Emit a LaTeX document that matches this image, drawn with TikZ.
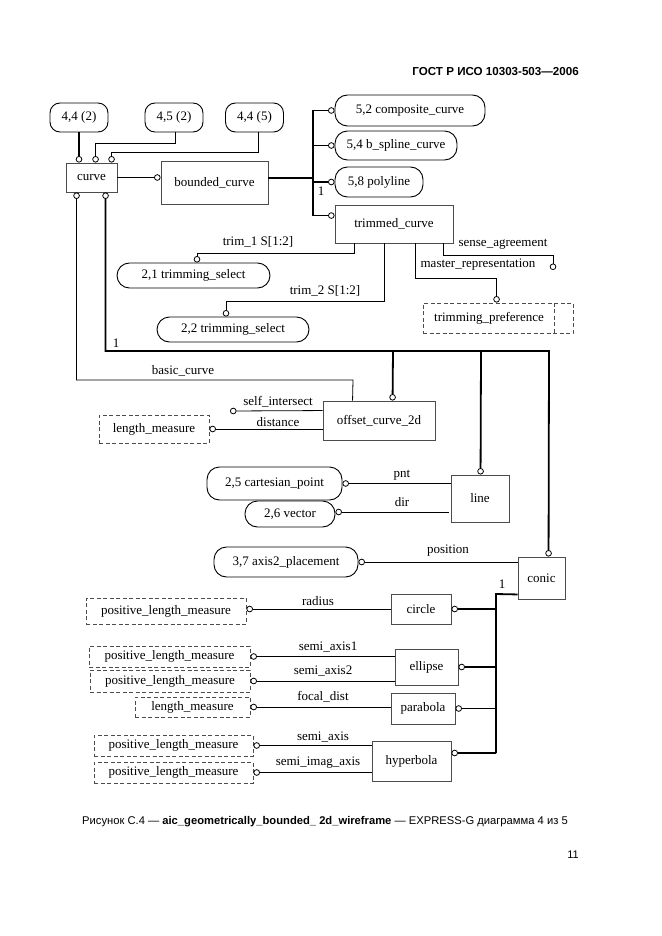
\documentclass[tikz,border=0pt]{standalone}
\usepackage{fontspec}
\setmainfont{Liberation Serif}
\setsansfont{Liberation Sans}
\usetikzlibrary{arrows.meta,calc}
\begin{document}
\begin{tikzpicture}[x=1pt,y=-1pt,
  every node/.style={font=\fontsize{13}{15}\selectfont, inner sep=0pt},
  ent/.style={draw=black!70, line width=0.9pt, minimum width=#1},
  ent/.default=50pt,
  typ/.style={draw=black!70, line width=0.9pt, dash pattern=on 4pt off 2.5pt, minimum width=#1},
  refb/.style={draw=black, line width=0.9pt, rounded corners=10pt, minimum width=58pt, minimum height=29pt},
  capb/.style={draw=black, line width=0.9pt, rounded corners=12.5pt, minimum width=#1},
  lab/.style={font=\fontsize{13}{15}\selectfont},
  thn/.style={line width=0.8pt},
  thk/.style={line width=1.8pt},
  endc/.style={-{Circle[open,length=6.5pt 0,width=6.5pt 0,line width=0.8pt 0]}},
  bothc/.style={{Circle[open,length=6.5pt 0,width=6.5pt 0,line width=0.8pt 0]}-{Circle[open,length=6.5pt 0,width=6.5pt 0,line width=0.8pt 0]}},
  startc/.style={{Circle[open,length=6.5pt 0,width=6.5pt 0,line width=0.8pt 0]}-}
]
\useasboundingbox (0,0) rectangle (661,936);

% header
\node[font=\sffamily\bfseries\fontsize{11.6}{13}\selectfont, anchor=east] (hdr) at (579,72) {ГОСТ Р ИСО 10303-503—2006};

% page references
\node[refb] (r1) at (79,117.5) {4,4 (2)};
\node[refb] (r2) at (174,117.5) {4,5 (2)};
\node[refb] (r3) at (254.5,117.5) {4,4 (5)};

% entities
\node[ent=51pt, minimum height=29pt] (curve) at (91.5,177.5) {curve};
\node[ent=107pt, minimum height=43pt] (bc) at (214.5,182.5) {bounded\_curve};
\node[capb=150pt, minimum height=31pt] (comp) at (410,110.5) {5,2 composite\_curve};
\node[capb=122pt, minimum height=29pt] (bsp) at (396,145.5) {5,4 b\_spline\_curve};
\node[capb=88pt, minimum height=30pt] (poly) at (379,182) {5,8 polyline};
\node[ent=118pt, minimum height=38pt] (trim) at (394,224) {trimmed\_curve};
\node[capb=153pt, minimum height=25pt] (ts1) at (193.5,275.5) {2,1 trimming\_select};
\node[capb=152pt, minimum height=25pt] (ts2) at (233,329.5) {2,2 trimming\_select};
\node[typ=150pt, minimum height=30pt, text width=130pt, align=center] (tp) at (498,318) {\hspace*{-18pt}trimming\_preference};
\draw[draw=black!70, line width=0.9pt, dash pattern=on 4pt off 2.5pt] ($(tp.north east)+(-19,0)$) -- ($(tp.south east)+(-19,0)$);

\node[ent=112pt, minimum height=39pt] (ocd) at (379,420.5) {offset\_curve\_2d};
\node[typ=110pt, minimum height=28pt] (lm1) at (154,429) {length\_measure};
\node[ent=58pt, minimum height=47pt] (line) at (480,498.5) {line};
\node[capb=135pt, minimum height=33pt] (cp) at (274.5,483.5) {2,5 cartesian\_point};
\node[capb=90pt, minimum height=26pt] (vec) at (290,514) {2,6 vector};
\node[capb=144pt, minimum height=30pt] (ax) at (286,562) {3,7 axis2\_placement};
\node[ent=47pt, minimum height=42pt] (conic) at (541.5,578) {conic};

\node[ent=60pt, minimum height=30pt] (circ) at (421,609) {circle};
\node[ent=63pt, minimum height=36pt] (ell) at (426.5,667) {ellipse};
\node[ent=64pt, minimum height=31pt] (par) at (423,708.5) {parabola};
\node[ent=79pt, minimum height=40pt] (hyp) at (411.5,761) {hyperbola};

\node[typ=160pt, minimum height=26pt] (plm1) at (166,611) {positive\_length\_measure};
\node[typ=161pt, minimum height=21pt] (plm2) at (169.5,656.5) {positive\_length\_measure};
\node[typ=160pt, minimum height=22pt] (plm3) at (170,681) {positive\_length\_measure};
\node[typ=115pt, minimum height=20pt] (lm2) at (192.5,707) {length\_measure};
\node[typ=159pt, minimum height=21pt] (plm4) at (173.5,745.5) {positive\_length\_measure};
\node[typ=159pt, minimum height=21pt] (plm5) at (173.5,772.5) {positive\_length\_measure};

% connectors: curve to page references
\draw[thk,endc] (r1.south) -- (r1.south |- curve.north);
\draw[thn,endc] ($(r2.south)+(1,0)$) -- ++(0,11) -| ($(curve.north west)+(30,0)$);
\draw[thn,endc] ($(r3.south)+(3.5,0)$) -- ++(0,20) -| ($(curve.north west)+(46,0)$);

% curve -> bounded_curve
\draw[thk,endc] (curve.east) -- (curve.east -| bc.west);

% bounded_curve subtypes
\coordinate (bt) at (313,178);
\draw[thk] (bc.east |- bt) -- (bt);
\draw[thk,endc] (bt) |- (comp.west);
\draw[thk,endc] (bt) |- (bsp.west);
\draw[thk,endc] (bt) |- (poly.west);
\draw[thk,endc] (bt) |- ($(trim.north west)+(0,11)$);
\node[lab] (one1) at (321,191) {1};

% trimmed_curve attributes
\draw[thn,endc] ($(trim.south west)+(20,0)$) -- ++(0,10) -| ($(ts1.north)+(3.5,0)$);
\node[lab] (l_t1) at (258,242) {trim\_1 S[1:2]};
\draw[thn,endc] ($(trim.south west)+(50,0)$) -- ++(0,58) -| ($(ts2.north)+(-7,0)$);
\node[lab] (l_t2) at (325,291) {trim\_2 S[1:2]};
\coordinate (sa) at (553,270);
\draw[thn,endc] ($(trim.south east)+(-10,0)$) -- ++(0,12) -| (sa);
\node[lab] (l_sa) at (503,244) {sense\_agreement};
\draw[thn,endc] ($(trim.south west)+(81,0)$) -- ++(0,35) -| ($(tp.north west)+(74,0)$);
\node[lab] (l_mr) at (478,265) {master\_representation};

% curve subtypes (line, conic, offset_curve_2d)
\draw[thk,bothc] ($(curve.south west)+(40,0)$) |- (549,351) -- ($(conic.north west)+(31,0)$);
\node[lab] (one2) at (116,343) {1};
\draw[thk,endc] (393,351) -- ($(ocd.north west)+(70,0)$);
\draw[thk,endc] (481,351) -- ($(line.north west)+(30,0)$);

% basic_curve
\draw[thn,startc] ($(curve.south west)+(11,0)$) |- (353,380) -- ($(ocd.north west)+(30,0)$);
\node[lab] (l_bc) at (183,371) {basic\_curve};

% offset_curve_2d attributes
\coordinate (si) at (230,411);
\draw[thn,endc] ($(ocd.north west)+(0,10)$) -- (si);
\node[lab] (l_si) at (278,402) {self\_intersect};
\draw[thn,endc] (ocd.west |- lm1.east) -- (lm1.east);
\node[lab] (l_di) at (278,422) {distance};

% line attributes
\draw[thn,endc] (line.west |- cp.east) -- (cp.east);
\node[lab] (l_pnt) at (402,475) {pnt};
\draw[thn,endc] ($(line.west |- vec.east)+(-2,-2)$) -- ($(vec.east)+(0,-2)$);
\node[lab] (l_dir) at (402,502) {dir};

% conic attributes
\draw[thn,endc] (conic.west |- ax.east) -- (ax.east);
\node[lab] (l_pos) at (448,551) {position};

% conic subtypes
\coordinate (cb) at (496,594);
\coordinate (hypc) at ($(hyp.east)+(0,-8)$);
\draw[thk] ($(conic.south west)+(0,-5)$) -- (cb) -- (cb |- hypc);
\draw[thk,endc] (cb |- circ.east) -- (circ.east);
\draw[thk,endc] (cb |- ell.east) -- (ell.east);
\draw[thk,endc] (cb |- par.east) -- (par.east);
\draw[thk,endc] (cb |- hypc) -- (hypc);
\node[lab] (one3) at (502,584) {1};

% subtype attributes
\draw[thn,endc] (circ.west) -- (circ.west -| plm1.east);
\node[lab] (l_rad) at (318,601) {radius};
\draw[thn,endc] (ell.west |- plm2.east) -- (plm2.east);
\node[lab] (l_sa1) at (328,647) {semi\_axis1};
\draw[thn,endc] (ell.west |- plm3.east) -- (plm3.east);
\node[lab] (l_sa2) at (323,671) {semi\_axis2};
\draw[thn,endc] (par.west |- lm2.east) -- (lm2.east);
\node[lab] (l_fd) at (323,697) {focal\_dist};
\draw[thn,endc] (hyp.west |- plm4.east) -- (plm4.east);
\node[lab] (l_sx) at (323,737) {semi\_axis};
\draw[thn,endc] (hyp.west |- plm5.east) -- (plm5.east);
\node[lab] (l_sia) at (318,763) {semi\_imag\_axis};

% caption and page number
\node[font=\sffamily\fontsize{11.2}{13}\selectfont, anchor=west] (capt) at (82,822) {Рисунок С.4 — \textbf{aic\_geometrically\_bounded\_ 2d\_wireframe} — EXPRESS-G диаграмма 4 из 5};
\node[font=\sffamily\fontsize{11}{13}\selectfont, anchor=east] (pg) at (579,855) {11};
\end{tikzpicture}
\end{document}
